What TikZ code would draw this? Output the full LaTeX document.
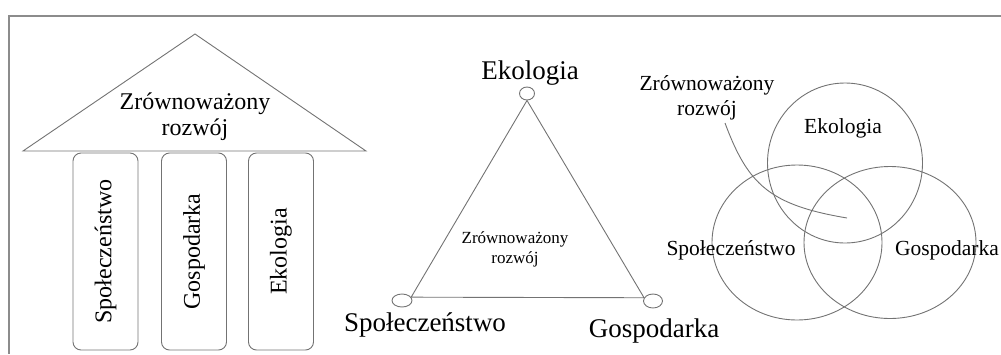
\documentclass[tikz,border=0pt]{standalone}
\usepackage{fontspec}
\setmainfont{Liberation Serif}
\usetikzlibrary{shapes.geometric}
\begin{document}
\begin{tikzpicture}[x=1pt,y=-1pt,
  ln/.style={draw=black!55, line width=0.9pt},
  pillar/.style={ln, rounded corners=8pt, rotate=90, minimum width=197pt, minimum height=65pt, inner sep=0pt, font=\fontsize{24}{26}\selectfont},
  ell/.style={ln, ellipse, inner sep=0pt},
  bigf/.style={font=\fontsize{27}{30}\selectfont},
  midf/.style={font=\fontsize{21.5}{25}\selectfont},
  ]
\useasboundingbox (0,0) rectangle (1001,354);
% frame
\draw[draw=black!45, line width=1.3pt] (1001,16) -- (9,16) -- (9,354);
% ---- temple ----
\draw[ln] (23,151) -- (195,34) -- (366,151) -- cycle;
\node[font=\fontsize{24}{26}\selectfont, align=center, inner sep=0pt] (roof) at (195,117) {Zrównoważony\\rozwój};
\node[pillar] (p1) at (105.5,251.5) {Społeczeństwo};
\node[pillar] (p2) at (194,251.5) {Gospodarka};
\node[pillar] (p3) at (281,251.5) {Ekologia};
% ---- triangle ----
\node[ell, minimum width=15pt, minimum height=13pt] (eT) at (527,93.5) {};
\node[ell, minimum width=20pt, minimum height=13pt] (eL) at (402,300.5) {};
\node[ell, minimum width=19pt, minimum height=14pt] (eR) at (653,301) {};
\draw[ln] (eT.south) -- (eL.20) -- (eR.160) -- cycle;
\node[bigf, anchor=base, inner sep=0pt] (tE) at (530,79) {Ekologia};
\node[bigf, anchor=base, inner sep=0pt] (tS) at (425,331) {Społeczeństwo};
\node[bigf, anchor=base, inner sep=0pt] (tG) at (654,337) {Gospodarka};
\node[font=\fontsize{17}{20}\selectfont, align=center, inner sep=0pt] (tZ) at (515,249) {Zrównoważony\\rozwój};
% ---- venn ----
\draw[ln] (845,163) ellipse [x radius=77.5pt, y radius=80pt];
\draw[ln] (797,242.5) ellipse [x radius=85pt, y radius=77.5pt];
\draw[ln] (890,242.5) ellipse [x radius=86pt, y radius=76pt];
\node[midf, anchor=base, inner sep=0pt] (vE) at (843,133) {Ekologia};
\node[midf, anchor=base, inner sep=0pt] (vS) at (731,255) {Społeczeństwo};
\node[midf, anchor=base, inner sep=0pt] (vG) at (947,255) {Gospodarka};
\node[midf, align=center, inner sep=0pt] (vZ) at (707,98) {Zrównoważony\\rozwój};
\coordinate (lS) at (725,123);
\coordinate (lE) at (847,218);
\draw[ln] (lS) .. controls (748,185) and (770,205) .. (lE);
\end{tikzpicture}
\end{document}
